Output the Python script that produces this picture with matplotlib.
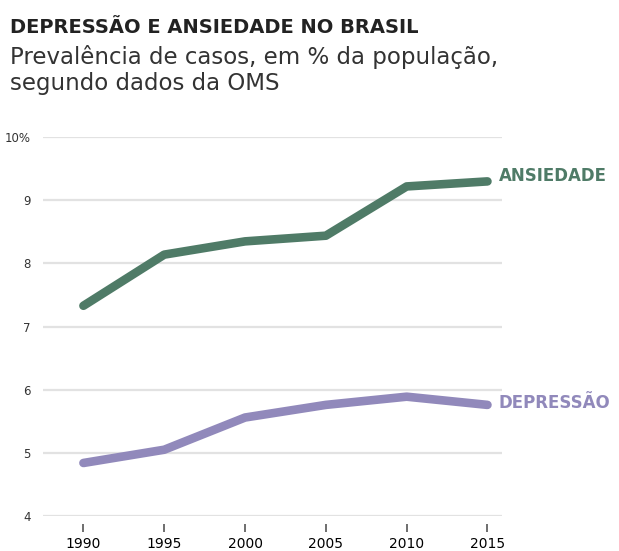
import matplotlib
matplotlib.use("Agg")
import matplotlib.pyplot as plt

anos = [1990, 1995, 2000, 2005, 2010, 2015]
ansiedade = [7.33, 8.14, 8.35, 8.44, 9.22, 9.30]
depressao = [4.84, 5.05, 5.56, 5.76, 5.89, 5.76]
y_ticks = [4, 5, 6, 7, 8, 9, 10]
y_labels = ["4", "5", "6", "7", "8", "9", "10%"]
titulo = "DEPRESSÃO E ANSIEDADE NO BRASIL"
subtitulo = ["Prevalência de casos, em % da população,", "segundo dados da OMS"]

verde = "#4f7b67"
roxo = "#9189bb"

plt.rcParams["font.family"] = ["DejaVu Sans"]

fig = plt.figure(figsize=(6.19, 5.51), dpi=100)
ax = fig.add_axes([0.0695, 0.0635, 0.7415, 0.6875])

for y in y_ticks:
    ax.axhline(y, color="#e2e2e2", lw=1.6, zorder=1)

ax.plot(anos, ansiedade, color=verde, lw=6.2, solid_capstyle="round", zorder=3)
ax.plot(anos, depressao, color=roxo, lw=6.2, solid_capstyle="round", zorder=3)

ax.text(2015.7, ansiedade[-1] + 0.08, "ANSIEDADE", color=verde, fontsize=12,
        fontweight="bold", va="center", ha="left", clip_on=False)
ax.text(2015.7, depressao[-1] + 0.03, "DEPRESSÃO", color=roxo, fontsize=12,
        fontweight="bold", va="center", ha="left", clip_on=False)

ax.set_xlim(1987.5, 2015.9)
ax.set_ylim(4, 10)
ax.set_xticks(anos)
ax.set_xticklabels([str(a) for a in anos], fontsize=10.5, color="#333333")
ax.set_yticks(y_ticks)
ax.set_yticklabels(y_labels, fontsize=8.5, color="#333333")
ax.tick_params(axis="y", length=0, pad=9)
ax.tick_params(axis="x", length=6, width=1.2, color="#555555", pad=3, direction="out")
for s in ax.spines.values():
    s.set_visible(False)
# ticks sit a little under the baseline
ax.spines["bottom"].set_position(("outward", 6))

fig.text(0.016, 1 - 33 / 551, titulo, fontsize=14, fontweight="bold",
         color="#222222", va="baseline", ha="left")
fig.text(0.016, 1 - 64 / 551, subtitulo[0], fontsize=16.5,
         color="#333333", va="baseline", ha="left")
fig.text(0.016, 1 - 90 / 551, subtitulo[1], fontsize=16.5,
         color="#333333", va="baseline", ha="left")

fig.savefig("out.png", dpi=100, facecolor="white")
